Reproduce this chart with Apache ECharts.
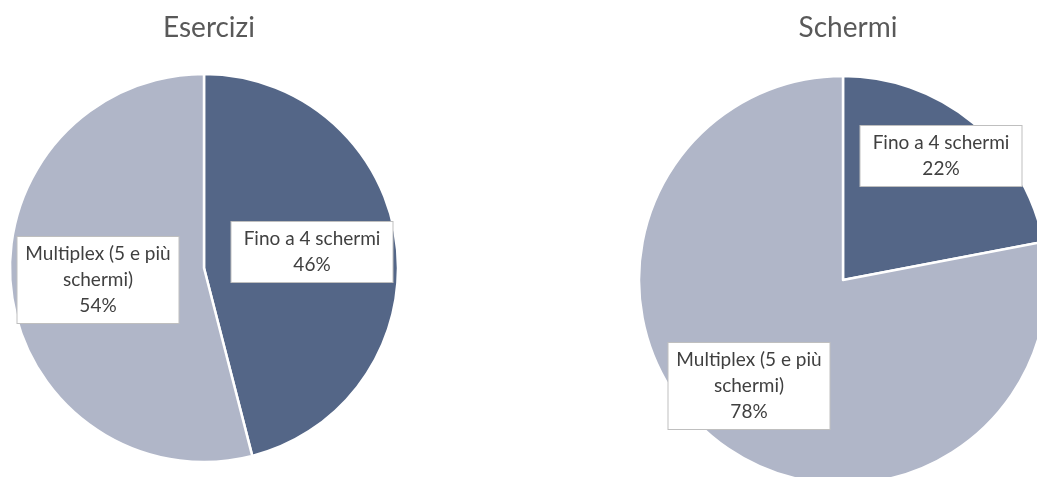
<!DOCTYPE html>
<html>
<head>
<meta charset="utf-8">
<script src="https://cdn.jsdelivr.net/npm/echarts@6/dist/echarts.min.js"></script>
<style>
  html, body { margin: 0; padding: 0; background: #fff; }
  #main { width: 1037px; height: 477px; }
</style>
</head>
<body>
<div id="main"></div>
<script>
var categories = ['Fino a 4 schermi', 'Multiplex (5 e più schermi)'];
var esercizi = [46, 54];
var schermi = [22, 78];
var titles = ['Esercizi', 'Schermi'];

var chart = echarts.init(document.getElementById('main'));

var colors = ['#546687', '#B0B6C8'];
var fontFam = 'Lato, "Open Sans", sans-serif';

function toData(values) {
  return categories.map(function (c, i) {
    return { name: c, value: values[i] };
  });
}

// label box centres (callouts)
var leftLabels = [[312, 252], [98, 280]];
var rightLabels = [[941, 156], [749, 386]];

// long names wrap before the last word, like the original callouts
function wrapName(name) {
  if (name.length <= 20) return name;
  var k = name.lastIndexOf(' ');
  return name.slice(0, k) + '\n' + name.slice(k + 1);
}

var labelStyle = {
  show: true,
  position: 'inside',
  formatter: function (p) {
    return wrapName(p.name) + '\n' + Math.round(p.percent) + '%';
  },
  color: '#404040',
  fontFamily: fontFam,
  fontSize: 19,
  lineHeight: 26,
  width: 153,
  overflow: 'none',
  align: 'center',
  backgroundColor: '#fff',
  borderColor: '#bfbfbf',
  borderWidth: 1,
  padding: [4, 4, 4, 4]
};

var option = {
  animation: false,
  color: colors,
  title: [
    {
      text: titles[0], left: 204, top: 9, textAlign: 'center',
      textStyle: { fontFamily: fontFam, fontSize: 28, fontWeight: 'normal', color: '#595959' }
    },
    {
      text: titles[1], left: 843, top: 9, textAlign: 'center',
      textStyle: { fontFamily: fontFam, fontSize: 28, fontWeight: 'normal', color: '#595959' }
    }
  ],
  series: [
    {
      type: 'pie',
      center: [204, 268],
      radius: 194,
      startAngle: 90,
      clockwise: true,
      itemStyle: { borderColor: '#fff', borderWidth: 2.5 },
      label: labelStyle,
      labelLine: { show: false },
      labelLayout: function (p) {
        return { x: leftLabels[p.dataIndex][0], y: leftLabels[p.dataIndex][1] };
      },
      emphasis: { disabled: true },
      data: toData(esercizi)
    },
    {
      type: 'pie',
      center: [843, 280],
      radius: 204,
      startAngle: 90,
      clockwise: true,
      itemStyle: { borderColor: '#fff', borderWidth: 2.5 },
      label: labelStyle,
      labelLine: { show: false },
      labelLayout: function (p) {
        return { x: rightLabels[p.dataIndex][0], y: rightLabels[p.dataIndex][1] };
      },
      emphasis: { disabled: true },
      data: toData(schermi)
    }
  ]
};

chart.setOption(option);
</script>
</body>
</html>
